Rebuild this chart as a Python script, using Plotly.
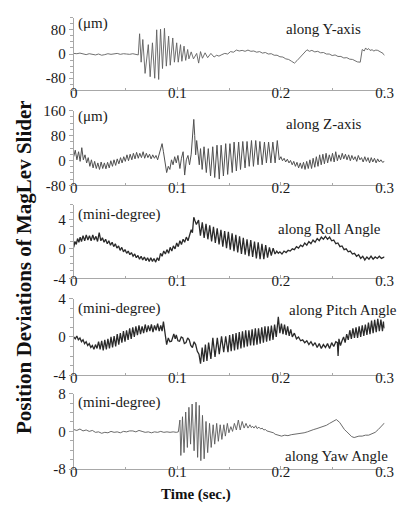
import plotly.graph_objects as go

# ---------------- data (time in ms) ----------------
Y_T = [0,3,6,9,12,15,18,21,24,27,30,33,36,39,42,45,48,51,54,57,60,62.3,63.6,65.1,66.7,68.9,72.0,73.8,76.0,78.2,80.1,82.0,83.8,85.7,87.6,89.4,91.6,93.2,95.6,97.2,99.4,100.9,103.1,104.4,106.5,108.1,110.0,111.2,113.4,115.6,118.7,120.6,122.4,124.3,126.8,129.3,132.4,135.5,138,140.2,143,145.8,148.6,151.4,154.2,157.0,159.8,162.6,165.4,168.2,171,173.8,176.6,179.4,182.2,185.0,187.8,190.7,193.5,196.3,199,201.9,204.7,207.5,210.3,213.1,215.5,217.8,220,222.4,225.2,227.5,229.9,232.7,235.5,238.3,241.1,243.9,246.7,249.5,252.3,255.1,257.9,260.7,263.6,266.4,269.2,271.5,273.8,276.6,277.6,278.5,280.4,281.8,283.2,284.6,286.0,288,289.7,291.6,293.5,295.4,297.2,298.6,300]
Y_V = [2,1,3,0,-2,1,-1,-3,0,-4,-2,1,-1,0,2,-1,1,0,-1,1,0,-3,67,-27,48,-64,31,-75,37,-80,80,-84,82,-48,85,-40,59,-37,53,-27,37,-27,31,-24,26,-21,15,-16,7,-16,2,-30,8,-14,4,-12,2,-10,-4,-7,-2,2,0,8,6,13,10,12,9,13,9,10,6,8,3,5,0,1,-4,-4,-9,-10,-16,-18,-24,-30,-22,-13,-4,5,14,9,12,7,9,4,5,0,0,-5,-3,-8,-8,-13,-12,-17,-18,-22,-26,-27,5,15,10,20,14,18,12,14,10,13,12,8,5,2,-5]

Z_T = [0,1.5,3.1,4.7,6.2,7.8,9.3,10.9,12.5,14.0,15.6,17.1,18.7,20.2,21.8,23.3,24.9,26.5,28.0,29.6,31.1,32.7,34.3,35.8,37.4,38.9,40.5,42.0,43.6,45.2,46.7,48.3,49.8,51.4,52.9,54.5,56.1,57.6,59.2,60.7,62.3,63.8,65.4,67.0,68.5,70.1,71.6,73.2,74.7,76.3,77.9,79.4,81.0,82.5,84.1,85.3,86.6,88.1,89.7,91.3,92.8,94.4,95.9,97.5,99.0,100.6,102.5,104.0,105.6,107.1,108.7,110.3,111.8,113.4,114.6,115.9,116.8,117.7,118.7,119.9,121.2,122.4,124.0,125.8,128.0,129.9,132.1,134.2,136.1,138.3,140.5,142.3,144.5,146.7,148.6,150.8,153.0,154.8,157.0,159.2,161.0,163.2,165.4,167.3,169.4,171.6,173.5,175.7,177.9,179.7,181.9,184.1,186.0,188.1,190.3,192.2,194.4,196.5,198.4,200.0,201.5,203.1,204.6,206.2,207.8,209.3,210.9,212.4,214.0,215.5,217.1,218.7,220.2,221.8,223.3,224.9,226.4,228.0,229.6,231.1,232.7,234.2,235.8,237.4,238.9,240.5,242.0,243.6,245.1,246.7,248.3,249.8,251.4,252.9,254.5,256.0,257.6,259.2,260.7,262.3,263.8,265.4,267.0,268.5,270.1,271.6,273.2,274.7,276.3,277.8,279.4,281.0,282.5,284.1,285.6,287.2,288.7,290.3,291.9,293.4,295.0,296.5,298.1,300.0]
Z_V = [12,33,2,28,-3,41,2,18,-8,9,-19,2,-24,-3,-26,-8,-29,-5,-26,-8,-27,-6,-24,-1,-19,2,-16,5,-11,9,-8,12,-3,18,-1,20,2,23,5,26,7,23,9,28,7,23,9,20,5,18,7,16,2,18,38,54,28,-8,-39,-19,-29,2,-14,12,-8,16,-26,7,28,-47,2,16,-14,20,70,132,80,18,64,28,-14,38,-29,44,-39,38,-50,44,-55,49,-60,49,-50,54,-45,54,-39,59,-34,59,-29,61,-24,61,-19,64,-19,64,-14,61,-14,59,-8,59,-8,59,-8,64,2,12,-1,7,-5,4,-8,0,-14,-3,-19,-6,-24,-8,-26,-6,-29,-3,-26,2,-26,7,-22,12,-19,18,-14,20,-11,23,-8,18,-3,23,-5,28,-1,18,2,23,5,20,2,18,-1,16,2,12,-3,16,2,9,-5,12,-3,9,-8,9,-5,7,-8,5,-5,2,-6,-3]

ROLL_T = [0,1.2,2.5,3.7,5.0,6.2,7.5,9.0,10.6,12.1,13.7,15.2,16.8,18.4,19.9,21.5,23.0,24.6,26.2,27.7,29.3,30.8,32.4,33.9,35.5,37.1,38.6,40.2,41.7,43.3,44.8,46.4,48.0,49.5,51.1,52.6,54.2,55.7,57.3,58.9,60.4,62.0,63.5,65.1,66.6,68.2,69.8,71.3,72.9,74.4,76.0,77.5,79.1,80.7,82.2,83.8,85.3,86.9,88.5,90.0,91.6,93.1,94.7,96.2,97.8,99.4,100.9,102.5,104.0,105.6,107.1,108.7,110.3,111.8,113.4,114.6,115.9,117.1,118.4,120.5,122.3,124.1,125.9,127.7,129.5,131.3,133.1,134.9,136.7,138.5,140.3,142.1,143.9,145.7,147.5,149.3,151.1,152.9,154.7,156.5,158.3,160.1,161.9,163.7,165.5,167.3,169.1,170.9,172.7,174.5,176.3,178.1,179.9,181.7,183.5,185.3,187.1,188.9,190.7,192.5,194.3,196,197.5,199,201,203,205,207,209,211,213,215,217,219,221,223,225,227,229,231,233,235,237,239,241,243,245,247,249,251,253,255,257,259,261,263,265,267,269,271,273,275,277,279,281,283,285,287,289,291,293,295,297,300]
ROLL_V = [0.2,1.0,0.6,1.4,0.9,1.6,1.0,1.8,1.1,1.9,1.2,1.8,1.1,1.9,1.2,1.7,1.0,2.2,1.1,1.5,0.9,1.3,0.7,1.1,0.5,0.9,0.3,0.7,0.1,0.4,-0.2,0.2,-0.4,-0.1,-0.6,-0.3,-0.8,-0.5,-1.0,-0.7,-1.2,-0.9,-1.4,-1.0,-1.5,-1.1,-1.6,-1.2,-1.7,-1.2,-1.7,-1.3,-1.8,-1.2,-1.6,-0.6,-1.0,-0.3,-0.7,-0.1,-0.6,0.2,-0.3,0.4,0.0,0.8,0.3,1.1,0.6,1.3,0.9,1.6,1.1,1.8,2.6,2.2,4.3,3.8,3.3,3.9,1.8,3.6,1.5,3.4,1.3,3.2,1.0,3.0,0.8,2.8,0.6,2.6,0.3,2.4,0.1,2.3,-0.1,2.1,-0.3,1.9,-0.5,1.7,-0.7,1.5,-0.8,1.3,-1.0,1.2,-1.1,1.0,-1.3,0.9,-1.4,0.7,-1.4,0.5,-1.2,0.2,-0.9,0.1,-0.7,-0.3,-0.6,-0.4,-0.7,-0.3,-0.5,-0.2,-0.3,0.0,-0.1,0.3,0.1,0.5,0.3,0.8,0.5,1.0,0.7,1.2,0.9,1.4,1.1,1.6,1.3,1.7,1.3,1.6,1.1,1.2,0.7,0.8,0.3,0.4,-0.1,0.0,-0.4,-0.3,-0.7,-0.6,-1.0,-0.8,-1.3,-1.0,-1.5,-1.1,-1.4,-1.0,-1.4,-1.1,-1.3,-1.0,-1.3,-1.1]

PITCH_T = [0,1.5,3.0,4.5,6.0,7.5,9.0,10.5,12.0,13.5,15.0,16.5,18.0,19.5,21.0,22.5,24.0,25.5,27.0,28.5,30.0,31.5,33.0,34.5,36.0,37.5,39.0,40.5,42.0,43.5,45.0,46.5,48.0,49.5,51.0,52.5,54.0,55.5,57.0,58.5,60.0,61.5,63.0,64.5,66.0,67.5,69.0,70.5,72.0,73.5,75.0,76.5,78.0,79.5,81.0,82.5,84.0,85.3,86.6,88.2,89.7,91.3,92.8,94.4,96.6,98,99.0,100.6,102.2,103.8,105.3,106.8,108.4,110,111.5,113,114.6,116.2,117.7,119.3,120.9,122.4,124.0,125.5,127.1,128.6,130.2,132.4,134.3,136.4,138.6,140.5,142.7,144.8,146.7,148.9,150.5,152.0,153.6,155.2,156.7,158.3,159.8,161.4,162.9,164.5,166.0,167.6,169.1,170.7,172.2,173.8,175.3,176.9,178.4,180.0,181.5,183.1,184.6,186.2,187.7,189.3,190.8,192.4,193.9,195.5,197.5,199.0,200.5,202.0,203.5,205.0,206.5,208.0,209.5,211.0,213,215,217,219,221,223,225,227,229,231,233,235,237,239,241,243,245,247,249,251,253,254.5,255.2,256.0,257.5,259,260.5,262,263.5,265,266.5,268,269.5,271,272.5,274,275.5,277,278.5,280,281.5,283,284.5,286,287.5,289,290.5,292,293.5,295,296.5,298,299,300]
PITCH_V = [0.0,-0.2,0.1,-0.3,-0.1,-0.5,-0.3,-0.7,-0.5,-0.9,-0.7,-1.1,-0.9,-1.3,-0.8,-1.2,-0.5,-1.3,-0.4,-1.4,-0.3,-1.3,-0.2,-1.2,0.0,-1.1,0.1,-1.0,0.3,-0.8,0.4,-0.6,0.6,-0.5,0.7,-0.3,0.9,-0.2,1.0,0.0,1.1,0.2,1.2,0.3,1.1,0.4,1.3,0.5,1.2,0.6,1.3,0.5,1.2,0.7,1.4,0.6,1.2,0.6,1.6,0.2,-0.8,-0.1,-0.5,-0.45,0.3,-0.2,0.2,-0.4,-0.45,0.0,-0.1,-0.7,-0.6,-0.1,-0.3,-0.9,-1.1,-0.5,-0.8,-1.5,-1.8,-2.8,-1.1,-2.6,-0.8,-2.5,-0.6,-2.3,-0.1,-2.1,-0.1,-1.8,0.05,-1.6,0.05,-1.6,0.2,-1.5,0.3,-1.4,0.4,-1.3,0.5,-1.2,0.6,-1.1,0.7,-1.0,0.7,-0.9,0.8,-0.9,0.9,-0.8,0.9,-0.7,1.0,-0.6,1.1,-0.5,1.1,-0.4,1.2,-0.3,1.3,0.0,2.1,0.4,1.4,0.3,1.3,0.2,1.1,0.1,0.8,0.0,0.4,-0.2,0.0,-0.4,-0.3,-0.6,-0.4,-0.8,-0.5,-0.9,-0.6,-1.1,-0.7,-1.2,-0.8,-1.1,-0.7,-1.2,-0.6,-1.0,-0.5,-0.6,-2.0,-0.2,-0.9,-0.4,0.0,-0.6,0.3,-0.3,0.7,-0.2,0.9,-0.1,1.0,-0.1,1.1,0.0,1.2,0.1,1.3,0.2,1.5,0.3,1.7,0.4,1.8,0.5,1.9,0.6,1.8,0.6,1.6,0.9]

YAW_T = [0,3,6,9,12,15,18,21,24,27,30,33,36,39,42,45,48,51,54,57,60,63,66,69,72,75,78,81,84,87,90,93,96,99,101,102.5,103.4,105.0,106.5,108.1,109.7,111.2,112.8,114.3,116.2,118.1,119.6,121.2,122.7,124.3,125.9,127.7,129.3,131.1,132.7,134.6,136.1,138.0,139.6,141.4,143.0,144.9,146.4,148.3,149.8,151.7,153.3,155.1,157.0,158.9,160.7,162.6,164.5,166.3,168.2,170.1,171.5,172.6,174,175.7,177,178.8,180.5,181.9,183.5,185.0,186.5,188.1,190.5,192.8,194.4,197.5,200.6,203.7,206.8,210,213,216,219,222.4,225.5,228.6,231.7,234.8,238,241.1,244,247,250.4,253.5,256.7,259,261.3,263.7,266,268.3,270.7,273,275.3,278.5,281.6,284.7,287.8,291,294,297,300]
YAW_V = [0.4,0.2,0.5,0.1,0.3,0.0,0.2,-0.2,-0.1,-0.4,-0.2,-0.3,0.0,-0.2,-0.1,-0.3,0.0,-0.1,0.1,0.1,-0.1,0.2,0.0,-0.2,-0.1,-0.3,-0.1,-0.2,0.0,-0.2,-0.1,-0.2,-0.1,-0.2,-0.1,2.4,-5.1,3.1,-4.5,4.1,-3.4,5.1,-2.7,5.8,-4.1,6.2,-5.5,5.5,-6.2,3.4,-5.8,2.1,-4.5,1.7,-3.4,1.4,-2.7,1.7,-2.1,1.4,-1.7,1.4,-1.0,1.7,-0.3,1.0,0.0,1.7,0.3,2.4,0.3,2.1,0.7,1.7,0.7,1.4,0.8,1.1,0.7,1.2,0.6,0.9,0.5,0.7,0.3,0.4,0.1,0.0,-0.2,-0.3,-0.6,-0.8,-1.0,-0.8,-0.9,-0.7,-0.6,-0.6,-0.4,-0.3,-0.1,0.2,0.4,0.6,0.8,1.1,1.3,1.7,2.1,2.5,1.9,1.1,0.4,-0.1,-0.6,-1.1,-1.3,-1.1,-1.0,-1.0,-0.8,-0.8,-0.5,-0.2,0.4,1.0,1.8]

X_TICKS = [0, 0.1, 0.2, 0.3]
X_TICKTEXT = ["0", "0.1", "0.2", "0.3"]

PANELS = [
    dict(t=Y_T, v=Y_V, rng=[-120, 120], tv=[-80, 0, 80], tt=["-80", "0", "80"], minor=20,
         unit="(\u03bcm)", label="along Y-axis"),
    dict(t=Z_T, v=Z_V, rng=[-80, 160], tv=[-80, 0, 80, 160], tt=["-80", "0", "80", "160"], minor=20,
         unit="(\u03bcm)", label="along Z-axis"),
    dict(t=ROLL_T, v=ROLL_V, rng=[-4, 6], tv=[-4, 0, 4], tt=["-4", "0", "4"], minor=1,
         unit="(mini-degree)", label="along Roll Angle"),
    dict(t=PITCH_T, v=PITCH_V, rng=[-4, 4], tv=[-4, 0, 4], tt=["-4", "0", "4"], minor=1,
         unit="(mini-degree)", label="along Pitch Angle"),
    dict(t=YAW_T, v=YAW_V, rng=[-8, 8], tv=[-8, 0, 8], tt=["-8", "0", "8"], minor=2,
         unit="(mini-degree)", label="along Yaw Angle"),
]

# ---------------- layout geometry (window pixels) ----------------
W, H = 409, 514


def px_x(x):
    return x / W


def px_y(y):
    return 1 - y / H


X_DOM = [px_x(72), px_x(393)]
PANEL_PX = [(10, 85), (106, 183), (203, 279), (300, 379), (398, 476)]
UNIT_Y = [16, 112, 213, 310, 407]
LABEL_POS = [(289, 22, "left"), (289, 120, "left"), (281, 228, "left"),
             (408, 312, "right"), (288, 462, "left")]
LINE_COLORS = ["#606060", "#505050", "#2a2a2a", "#2a2a2a", "#5a5a5a"]
LINE_WIDTHS = [0.9, 1.0, 1.3, 1.3, 0.9]

FONT = "Liberation Serif, Times New Roman, serif"
AX_COLOR = "#a8a8a8"
TXT = "#1a1a1a"

fig = go.Figure()
layout = dict(
    width=W, height=H,
    margin=dict(l=0, r=0, t=0, b=0),
    paper_bgcolor="white", plot_bgcolor="white",
    showlegend=False,
    font=dict(family=FONT, size=15, color=TXT),
    annotations=[],
)

for i, p in enumerate(PANELS):
    n = i + 1
    xs = "" if n == 1 else str(n)
    top, bot = PANEL_PX[i]
    fig.add_trace(go.Scatter(
        x=[t / 1000 for t in p["t"]], y=p["v"], mode="lines",
        line=dict(color=LINE_COLORS[i], width=LINE_WIDTHS[i]),
        xaxis="x" + xs, yaxis="y" + xs, hoverinfo="skip",
    ))
    layout["xaxis" + xs] = dict(
        domain=X_DOM, anchor="y" + xs, range=[0, 0.3],
        tickvals=X_TICKS, ticktext=X_TICKTEXT,
        showline=True, linecolor=AX_COLOR, linewidth=1,
        ticks="inside", ticklen=3, tickcolor=AX_COLOR,
        minor=dict(ticks="inside", ticklen=2, dtick=0.05, tickcolor=AX_COLOR),
        showgrid=False, zeroline=False,
        tickfont=dict(family=FONT, size=15, color=TXT),
        ticklabelstandoff=-11,
    )
    layout["yaxis" + xs] = dict(
        domain=[px_y(bot), px_y(top)], anchor="x" + xs, range=p["rng"],
        tickvals=p["tv"], ticktext=p["tt"],
        showline=True, linecolor=AX_COLOR, linewidth=1,
        ticks="outside", ticklen=4, tickcolor=AX_COLOR,
        minor=dict(ticks="outside", ticklen=3, dtick=p["minor"], tickcolor=AX_COLOR),
        showgrid=False, zeroline=False,
        tickfont=dict(family=FONT, size=15, color=TXT),
    )
    layout["annotations"].append(dict(
        text=p["unit"], xref="paper", yref="paper", x=px_x(74), y=px_y(UNIT_Y[i]),
        xanchor="left", yanchor="middle", showarrow=False,
        font=dict(family=FONT, size=15, color=TXT),
    ))
    lx, ly, anc = LABEL_POS[i]
    layout["annotations"].append(dict(
        text=p["label"], xref="paper", yref="paper", x=px_x(lx), y=px_y(ly),
        xanchor=anc, yanchor="middle", showarrow=False,
        font=dict(family=FONT, size=15, color=TXT),
    ))

layout["annotations"].append(dict(
    text="<b>Position Deviations of MagLev Slider</b>", xref="paper", yref="paper",
    x=px_x(20), y=px_y(267), xanchor="center", yanchor="middle", textangle=-90,
    showarrow=False, font=dict(family=FONT, size=21, color="#111111"),
))
layout["annotations"].append(dict(
    text="<b>Time (sec.)</b>", xref="paper", yref="paper",
    x=px_x(198), y=px_y(502), xanchor="center", yanchor="middle",
    showarrow=False, font=dict(family=FONT, size=15, color="#111111"),
))

fig.update_layout(**layout)
fig.write_html("out.html")
